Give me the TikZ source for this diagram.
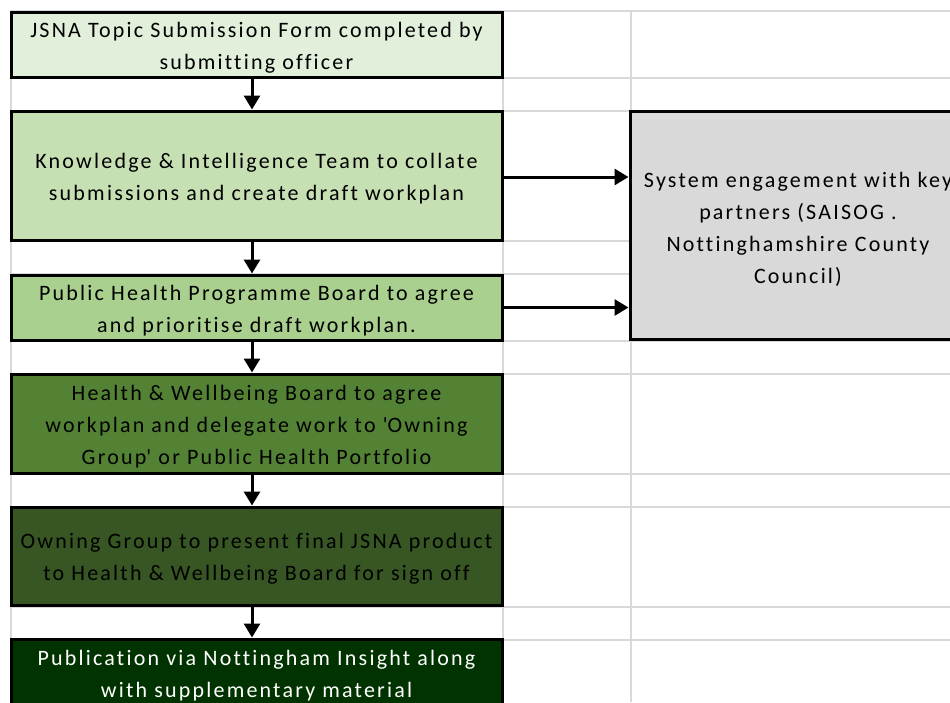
\documentclass[tikz,border=0pt]{standalone}
\usepackage{fontspec}
\setmainfont{Carlito}[LetterSpace=10, Ligatures={NoCommon}]
\usetikzlibrary{positioning, arrows.meta}
\tikzstyle{sheet} = [x = 1pt, y = -1pt]
\definecolor{gridColor}{RGB}{217,217,217}
\definecolor{stepOneFill}{RGB}{226,239,218}
\definecolor{stepTwoFill}{RGB}{198,224,180}
\definecolor{stepThreeFill}{RGB}{169,208,142}
\definecolor{stepFourFill}{RGB}{84,130,53}
\definecolor{stepFiveFill}{RGB}{55,86,35}
\definecolor{stepSixFill}{RGB}{0,51,0}
\definecolor{partnerFill}{RGB}{217,217,217}
\tikzstyle{gridLine} = [color=gridColor, line width=1.5pt]
\tikzstyle{stepBox} = [draw=black, line width=3pt, inner sep=0pt, minimum width=491pt]
\tikzstyle{stepText} = [align=center, inner sep=0pt, font=\fontsize{22}{32}\selectfont]
\tikzstyle{flowArrow} = [line width=3pt, -{Triangle[length=14pt, width=16pt]}]
\newcommand{\horizontalGridLine}[1]{\draw [gridLine] (11, #1) -- (950, #1);}
\newcommand{\verticalGridLine}[1]{\draw [gridLine] (#1, 11) -- (#1, 702);}

\begin{document}
\begin{tikzpicture}[sheet]
            \useasboundingbox (0,0) rectangle (950,702);
            % spreadsheet grid behind the chart
            \foreach \row in {11,78,111,241,274,341,374,474,507,607,640} {
              \horizontalGridLine{\row}
            }
            \foreach \column in {11,503,631} {
              \verticalGridLine{\column}
            }

            \node [stepBox, fill=stepOneFill, minimum height=65pt] (submit) at (256.5,44.5) {};
            \node [stepBox, fill=stepTwoFill, minimum height=129pt] (collate) at (256.5,175.5) {};
            \node [stepBox, fill=stepThreeFill, minimum height=65pt] (prioritise) at (256.5,307.5) {};
            \node [stepBox, fill=stepFourFill, minimum height=99pt] (delegate) at (256.5,423.5) {};
            \node [stepBox, fill=stepFiveFill, minimum height=98pt] (signoff) at (256.5,556) {};
            \node [stepBox, fill=stepSixFill, minimum height=70pt] (publish) at (256.5,674) {};
            \node [stepBox, fill=partnerFill, minimum width=336pt, minimum height=228pt] (partners) at (798,225) {};

            \node [stepText] (submitText) at ([yshift=-3pt]submit.center)
              {JSNA Topic Submission Form completed by\\submitting officer};
            \node [stepText] (collateText) at ([yshift=-3pt]collate.center)
              {Knowledge \& Intelligence Team to collate\\submissions and create draft workplan};
            \node [stepText] (prioritiseText) at ([yshift=-3pt]prioritise.center)
              {Public Health Programme Board to agree\\and prioritise draft workplan.};
            \node [stepText] (delegateText) at ([yshift=-3.5pt]delegate.center)
              {Health \& Wellbeing Board to agree\\workplan and delegate work to \textquotesingle Owning\\Group\textquotesingle{} or Public Health Portfolio};
            \node [stepText] (signoffText) at ([yshift=-3pt]signoff.center)
              {Owning Group to present final JSNA product\\to Health \& Wellbeing Board for sign off};
            \node [stepText, text=white] (publishText) at ([yshift=-2pt]publish.center)
              {Publication via Nottingham Insight along\\with supplementary material};
            \node [stepText] (partnersText) at ([yshift=-4pt]partners.center)
              {System engagement with key\\partners (SAISOG .\\Nottinghamshire County\\Council)};

            \draw [flowArrow] ([xshift=-4.5pt]submit.south) -- ([xshift=-4.5pt]collate.north);
            \draw [flowArrow] ([xshift=-4.5pt]collate.south) -- ([xshift=-4.5pt]prioritise.north);
            \draw [flowArrow] ([xshift=-4.5pt]prioritise.south) -- ([xshift=-4.5pt]delegate.north);
            \draw [flowArrow] ([xshift=-4.5pt]delegate.south) -- ([xshift=-4.5pt]signoff.north);
            \draw [flowArrow] ([xshift=-4.5pt]signoff.south) -- ([xshift=-4.5pt]publish.north);
            \draw [flowArrow] ([yshift=-1.5pt]collate.east) -- ([yshift=-1.5pt]collate.east -| partners.west);
            \draw [flowArrow] (prioritise.east) -- (prioritise.east -| partners.west);
          \end{tikzpicture}
\end{document}
